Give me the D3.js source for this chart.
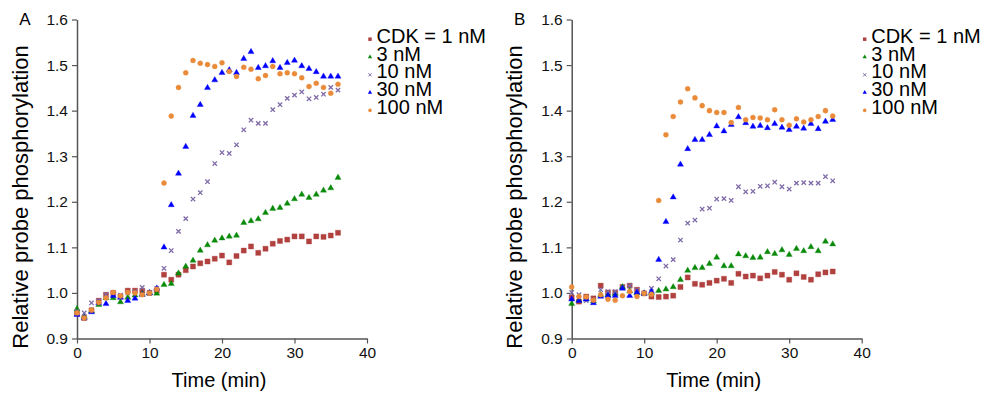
<!DOCTYPE html>
<html><head><meta charset="utf-8">
<script src="https://cdn.jsdelivr.net/npm/d3@7"></script>
<style>
html,body{margin:0;padding:0;background:#fff;}
svg{display:block;font-family:Arial,"Liberation Sans",sans-serif;}
</style></head>
<body>
<svg id="chart" width="987" height="394"></svg>
<script>
const times = [0,1,2,3,4,5,6,7,8,9,10,11,12,13,14,15,16,17,18,19,20,21,22,23,24,25,26,27,28,29,30,31,32,33,34,35,36];
const seriesNames = ["CDK = 1 nM","3 nM","10 nM","30 nM","100 nM"];
const xTicks = [0,10,20,30,40];
const yTicks = [0.9,1.0,1.1,1.2,1.3,1.4,1.5,1.6];

// Panel A
const aCdk1 = [0.955,0.945,0.962,0.983,0.996,1.000,0.992,1.005,1.005,1.005,1.000,1.005,1.040,1.029,1.040,1.050,1.058,1.065,1.069,1.075,1.082,1.067,1.081,1.093,1.102,1.088,1.097,1.108,1.114,1.117,1.124,1.124,1.113,1.124,1.123,1.126,1.132];
const aCdk3 = [0.965,0.948,0.960,0.974,0.989,0.989,0.980,0.990,0.995,0.998,1.000,0.999,1.018,1.020,1.043,1.058,1.071,1.093,1.105,1.115,1.120,1.124,1.126,1.154,1.158,1.162,1.176,1.185,1.187,1.196,1.206,1.216,1.209,1.216,1.225,1.230,1.253];
const aCdk10 = [0.960,0.956,0.978,0.983,0.996,0.994,0.995,1.000,1.003,1.012,1.000,1.010,1.054,1.093,1.135,1.163,1.206,1.220,1.244,1.284,1.308,1.306,1.325,1.358,1.379,1.372,1.372,1.402,1.413,1.427,1.434,1.441,1.426,1.429,1.436,1.451,1.445];
const aCdk30 = [0.952,0.945,0.958,0.978,0.976,0.994,0.990,0.983,0.988,0.996,1.000,1.010,1.100,1.193,1.262,1.321,1.389,1.413,1.450,1.467,1.483,1.489,1.483,1.514,1.529,1.494,1.498,1.509,1.494,1.505,1.510,1.498,1.492,1.485,1.475,1.475,1.475];
const aCdk100 = [0.956,0.945,0.962,0.979,0.989,1.001,0.993,1.001,1.000,0.996,1.000,1.008,1.241,1.388,1.451,1.483,1.510,1.504,1.501,1.497,1.505,1.486,1.475,1.495,1.491,1.470,1.477,1.497,1.481,1.483,1.481,1.472,1.453,1.460,1.451,1.438,1.458];

// Panel B
const bCdk1 = [0.990,0.981,0.992,0.988,1.016,1.001,1.001,1.013,1.016,1.007,0.999,0.992,0.991,0.992,0.994,1.013,1.034,1.020,1.018,1.022,1.027,1.031,1.022,1.042,1.036,1.038,1.032,1.038,1.046,1.040,1.029,1.043,1.035,1.029,1.041,1.045,1.047];
const bCdk3 = [0.976,0.984,0.986,0.982,0.996,0.996,0.998,1.013,1.004,1.000,0.999,1.000,1.005,1.008,1.013,1.029,1.049,1.055,1.055,1.064,1.078,1.059,1.059,1.085,1.081,1.077,1.078,1.090,1.086,1.094,1.084,1.097,1.092,1.101,1.092,1.113,1.107];
const bCdk10 = [1.001,0.996,0.983,0.985,1.007,1.003,1.003,1.011,1.016,1.006,0.999,1.010,1.031,1.059,1.073,1.116,1.153,1.160,1.184,1.186,1.206,1.207,1.203,1.233,1.222,1.223,1.234,1.235,1.243,1.233,1.228,1.241,1.242,1.241,1.241,1.255,1.246];
const bCdk30 = [0.986,0.983,0.986,0.978,0.992,0.994,0.994,1.010,0.994,1.001,0.999,1.003,1.073,1.156,1.210,1.282,1.316,1.336,1.336,1.347,1.366,1.355,1.369,1.386,1.373,1.365,1.367,1.362,1.371,1.363,1.358,1.365,1.361,1.371,1.360,1.376,1.380];
const bCdk100 = [1.013,0.992,0.991,0.984,0.996,0.986,0.984,0.994,1.003,0.992,0.999,0.997,1.203,1.347,1.387,1.419,1.448,1.428,1.411,1.400,1.396,1.396,1.374,1.407,1.380,1.385,1.384,1.380,1.402,1.380,1.368,1.382,1.375,1.380,1.387,1.400,1.388];

const colors = ["#B0413E","#0A8A0A","#7F6BA8","#0000FF","#E98B3A"];
const symbols = [d3.symbolSquare, d3.symbolTriangle, d3.symbolTimes, d3.symbolTriangle, d3.symbolCircle];
const sizes = [26, 16, 14, 16, 20];
const legendSizes = [12, 8, 8, 8, 10];

const svg = d3.select("#chart");

function drawPanel(dx, letter, seriesList) {
  const g = svg.append("g").attr("transform", `translate(${dx},0)`);
  const x = d3.scaleLinear().domain([0,40]).range([77,367]);
  const y = d3.scaleLinear().domain([0.9,1.6]).range([338.5,19.5]);

  const xAxis = g.append("g").attr("transform","translate(0,338.5)")
    .call(d3.axisBottom(x).tickValues(xTicks).tickSize(5).tickSizeOuter(0).tickPadding(3));
  const yAxis = g.append("g").attr("transform","translate(77,0)")
    .call(d3.axisLeft(y).tickValues(yTicks).tickFormat(d3.format(".1f")).tickSize(5).tickSizeOuter(0).tickPadding(4));
  [xAxis,yAxis].forEach(a=>{
    a.selectAll(".domain").attr("stroke","#555").attr("stroke-width",1.5);
    a.selectAll(".tick line").attr("stroke","#555").attr("stroke-width",1.2);
    a.selectAll(".tick text").attr("fill","#111").style("font-size","15.5px").style("font-family","Arial, 'Liberation Sans', sans-serif");
  });

  seriesList.forEach((vals, si) => {
    const sym = d3.symbol().type(symbols[si]).size(sizes[si]);
    const pts = g.append("g").selectAll("path").data(vals.map((v,i)=>({t:times[i],v})))
      .join("path")
      .attr("transform", d=>`translate(${x(d.t)},${y(d.v)})`)
      .attr("d", sym);
    if (si === 2) {
      pts.attr("fill","none").attr("stroke",colors[si]).attr("stroke-width",1.3);
    } else {
      pts.attr("fill",colors[si]).attr("stroke",colors[si]).attr("stroke-opacity",0.35).attr("stroke-width",1);
    }
  });

  // legend
  const lg = g.append("g");
  seriesNames.forEach((name, si) => {
    const by = 42.7 + si*17.8;
    const sym = d3.symbol().type(symbols[si]).size(legendSizes[si]);
    const m = lg.append("path").attr("transform",`translate(370,${by-3.5})`).attr("d",sym);
    if (si===2) m.attr("fill","none").attr("stroke",colors[si]).attr("stroke-width",1);
    else m.attr("fill",colors[si]);
    lg.append("text").attr("x",376.5).attr("y",by).text(name)
      .style("font-size","20px").attr("fill","#000");
  });

  g.append("text").attr("x",25).attr("y",25).attr("text-anchor","middle")
    .style("font-size","17px").text(letter);

  g.append("text").attr("transform","translate(27.5,197) rotate(-90)")
    .attr("text-anchor","middle").style("font-size","22px").text("Relative probe phosphorylation");

  g.append("text").attr("x",219).attr("y",386.5).attr("text-anchor","middle")
    .style("font-size","20px").text("Time (min)");
}

drawPanel(0, "A", [aCdk1,aCdk3,aCdk10,aCdk30,aCdk100]);
drawPanel(494.7, "B", [bCdk1,bCdk3,bCdk10,bCdk30,bCdk100]);
</script>
</body></html>
